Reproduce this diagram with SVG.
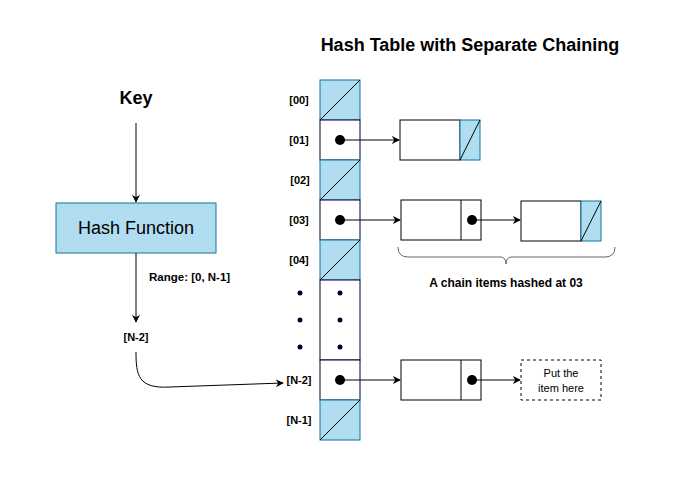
<svg xmlns="http://www.w3.org/2000/svg" width="690" height="490" viewBox="0 0 690 490">
<style>
text{font-family:"Liberation Sans",Arial,sans-serif;fill:#000}
.b{font-weight:bold}
.idx{font-size:11px;font-weight:bold;text-anchor:middle}
.blue{fill:#b1ddf0;stroke:#10739e;stroke-width:1}
.cell{fill:#fff;stroke:#000033;stroke-width:1}
.box{fill:#fff;stroke:#000;stroke-width:1}
.ln{fill:none;stroke:#000;stroke-width:1}
.dot{fill:#000}
.sdot{fill:#000033}
</style>
<defs>
<marker id="ar" viewBox="0 0 10 10" refX="9" refY="5" markerWidth="8" markerHeight="8" markerUnits="userSpaceOnUse" orient="auto">
<path d="M0,0 L10,5 L0,10 L3,5 Z" fill="#000"/>
</marker>
</defs>
<rect width="690" height="490" fill="#fff"/>
<text class="b" x="470" y="51" font-size="18" text-anchor="middle">Hash Table with Separate Chaining</text>

<g id="key"><text class="b" x="136" y="104" font-size="18" text-anchor="middle">Key</text></g>
<g id="hash-function">
<rect x="56" y="203" width="160" height="50" fill="#b1ddf0" stroke="#10739e"/>
<text x="136" y="234" font-size="18" text-anchor="middle">Hash Function</text>
</g>
<g id="range-label"><text class="b" x="149" y="281" font-size="11.5">Range: [0, N-1]</text></g>
<g id="n2-result"><text class="b" x="136" y="341" font-size="11" text-anchor="middle">[N-2]</text></g>

<g id="table">
<rect class="blue" x="320" y="80" width="40" height="40"/><path class="ln" d="M320,120 L360,80" stroke-width="0.8"/>
<rect class="cell" x="320" y="120" width="40" height="40"/><circle class="dot" cx="340" cy="140" r="5"/>
<rect class="blue" x="320" y="160" width="40" height="40"/><path class="ln" d="M320,200 L360,160" stroke-width="0.8"/>
<rect class="cell" x="320" y="200" width="40" height="40"/><circle class="dot" cx="340" cy="220" r="5"/>
<rect class="blue" x="320" y="240" width="40" height="40"/><path class="ln" d="M320,280 L360,240" stroke-width="0.8"/>
<rect class="cell" x="320" y="280" width="40" height="80"/>
<circle class="sdot" cx="340" cy="293" r="2.5"/><circle class="sdot" cx="340" cy="320" r="2.5"/><circle class="sdot" cx="340" cy="347" r="2.5"/>
<rect class="cell" x="320" y="360" width="40" height="40"/><circle class="dot" cx="340" cy="380" r="5"/>
<rect class="blue" x="320" y="400" width="40" height="40"/><path class="ln" d="M320,440 L360,400" stroke-width="0.8"/>
<text class="idx" x="299" y="104">[00]</text>
<text class="idx" x="299" y="144">[01]</text>
<text class="idx" x="300" y="184">[02]</text>
<text class="idx" x="299" y="224">[03]</text>
<text class="idx" x="299" y="264">[04]</text>
<circle class="sdot" cx="300" cy="293" r="2.5"/><circle class="sdot" cx="300" cy="320" r="2.5"/><circle class="sdot" cx="300" cy="347" r="2.5"/>
<text class="idx" x="299" y="384">[N-2]</text>
<text class="idx" x="299" y="424">[N-1]</text>
</g>

<g id="node-01">
<rect class="box" x="400" y="120" width="60" height="40"/>
<rect class="blue" x="460" y="120" width="20" height="40"/><path class="ln" d="M460,160 L480,120" stroke-width="0.8"/>
</g>
<g id="node-03a">
<rect class="box" x="401" y="200" width="80" height="40"/><path class="ln" d="M461,200 V240"/>
<circle class="dot" cx="472" cy="220" r="5"/>
</g>
<g id="node-03b">
<rect class="box" x="521" y="201" width="60" height="40"/>
<rect class="blue" x="581" y="201" width="20" height="40"/><path class="ln" d="M581,241 L601,201" stroke-width="0.8"/>
</g>
<g id="node-n2">
<rect class="box" x="401" y="360" width="80" height="40"/><path class="ln" d="M461,360 V400"/>
<circle class="dot" cx="472" cy="380" r="5"/>
</g>
<g id="new-item">
<rect x="521" y="360" width="80" height="40" fill="#fff" stroke="#000" stroke-dasharray="3,3"/>
<text x="561" y="377" font-size="11" text-anchor="middle">Put the</text>
<text x="561" y="392" font-size="11" text-anchor="middle">item here</text>
</g>
<g id="chain-brace">
<path d="M398,247 Q398,257 408,257 L500,257 Q506,257 506,264 Q506,257 512,257 L605,257 Q615,257 615,247" fill="none" stroke="#666" stroke-width="1"/>
<text class="b" x="506" y="287" font-size="12" text-anchor="middle">A chain items hashed at 03</text>
</g>

<g id="connectors" class="ln" marker-end="url(#ar)">
<path d="M136,123 V202"/>
<path d="M136,253 V322"/>
<path d="M136,352 C136,375 138,389 170,387 L283,383"/>
<path d="M340,140 H399"/>
<path d="M340,220 H400"/>
<path d="M472,220 H520"/>
<path d="M340,380 H400"/>
<path d="M472,380 H520"/>
</g>
</svg>
